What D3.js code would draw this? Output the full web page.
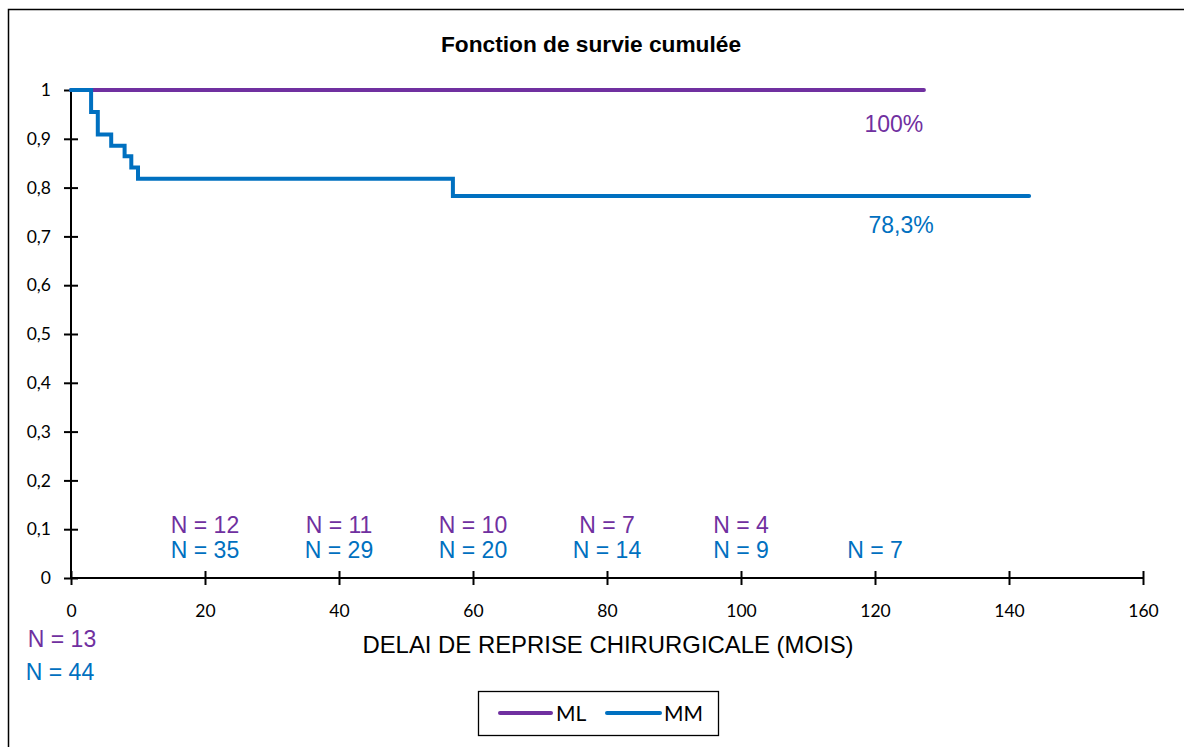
<!DOCTYPE html>
<html>
<head>
<meta charset="utf-8">
<script src="https://cdn.jsdelivr.net/npm/d3@7/dist/d3.min.js"></script>
<style>
  html, body { margin: 0; padding: 0; background: #fff; }
  svg { display: block; }
</style>
</head>
<body>
<svg id="chart" width="1184" height="747"></svg>
<script>
// ---------- data ----------
const title = "Fonction de survie cumulée";
const xTitle = "DELAI DE REPRISE CHIRURGICALE (MOIS)";
const xTicks = [0, 20, 40, 60, 80, 100, 120, 140, 160];
const yTicks = [0, 0.1, 0.2, 0.3, 0.4, 0.5, 0.6, 0.7, 0.8, 0.9, 1];
const yTickLabels = ["0", "0,1", "0,2", "0,3", "0,4", "0,5", "0,6", "0,7", "0,8", "0,9", "1"];

const seriesNames = ["ML", "MM"];
const mlTimes = [0, 127.3];
const mlSurv  = [1, 1];
const mmTimes = [0, 3, 4, 6, 8, 9, 10, 57, 143];
const mmSurv  = [1, 0.955, 0.909, 0.886, 0.864, 0.841, 0.818, 0.783, 0.783];

const mlAtRiskTimes = [20, 40, 60, 80, 100];
const mlAtRisk      = [12, 11, 10, 7, 4];
const mmAtRiskTimes = [20, 40, 60, 80, 100, 120];
const mmAtRisk      = [35, 29, 20, 14, 9, 7];
const mlStartN = 13;
const mmStartN = 44;
const mlFinalLabel = "100%";
const mmFinalLabel = "78,3%";

// ---------- styles ----------
const purple = "#7030A0";
const blue = "#0070C0";
const sans = "'Liberation Sans', Arial, sans-serif";
const tickFont = "Lato, 'Open Sans', sans-serif";

const svg = d3.select("#chart");
svg.append("rect").attr("width", 1184).attr("height", 747).attr("fill", "#fff");
svg.append("rect").attr("x", 8.5).attr("y", 9.5).attr("width", 1200).attr("height", 800)
  .attr("fill", "none").attr("stroke", "#000").attr("stroke-width", 1.5);

const x = d3.scaleLinear().domain([0, 160]).range([71, 1143]);
const y = d3.scaleLinear().domain([0, 1]).range([578, 90]);

// title
svg.append("text").attr("x", 591).attr("y", 52).attr("text-anchor", "middle")
  .attr("font-family", sans).attr("font-weight", "bold").attr("font-size", 22.7)
  .attr("fill", "#000").text(title);

// y axis
const yAxis = d3.axisLeft(y).tickValues(yTicks).tickSize(7).tickPadding(13)
  .tickFormat((d, i) => yTickLabels[i]);
const gy = svg.append("g").attr("transform", `translate(${x(0)},0)`).call(yAxis);
gy.select(".domain").attr("stroke", "#000").attr("stroke-width", 2).attr("d", `M0,${y(0)}V${y(1)}`);
gy.selectAll(".tick line").attr("x1", 7).attr("x2", -7).attr("stroke", "#000").attr("stroke-width", 2);
gy.selectAll(".tick text").attr("font-family", tickFont).attr("font-size", 17.5).attr("fill", "#000");

// x axis
const xAxis = d3.axisBottom(x).tickValues(xTicks).tickSize(7).tickPadding(20);
const gx = svg.append("g").attr("transform", `translate(0,${y(0)})`).call(xAxis);
gx.select(".domain").attr("stroke", "#000").attr("stroke-width", 2).attr("d", `M${x(0)},0H${x(160)}`);
gx.selectAll(".tick line").attr("y1", -7).attr("y2", 7).attr("stroke", "#000").attr("stroke-width", 2);
gx.selectAll(".tick text").attr("font-family", tickFont).attr("font-size", 17.5).attr("fill", "#000");

// x title
svg.append("text").attr("x", 608).attr("y", 653).attr("text-anchor", "middle")
  .attr("font-family", sans).attr("font-size", 23.9).attr("fill", "#000").text(xTitle);

// curves
const line = d3.line().x(d => x(d[0])).y(d => y(d[1])).curve(d3.curveStepAfter);
const mlData = mlTimes.map((t, i) => [t, mlSurv[i]]);
const mmData = mmTimes.map((t, i) => [t, mmSurv[i]]);
svg.append("path").attr("d", line(mlData)).attr("fill", "none").attr("stroke", purple)
  .attr("stroke-width", 4).attr("stroke-linecap", "round");
svg.append("path").attr("d", line(mmData)).attr("fill", "none").attr("stroke", blue)
  .attr("stroke-width", 4).attr("stroke-linecap", "round");

// final labels
svg.append("text").attr("x", x(mlTimes[1]) - 30).attr("y", 132).attr("text-anchor", "middle")
  .attr("font-family", sans).attr("font-size", 23).attr("fill", purple).text(mlFinalLabel);
svg.append("text").attr("x", x(mmTimes[mmTimes.length - 1]) - 128).attr("y", 233).attr("text-anchor", "middle")
  .attr("font-family", sans).attr("font-size", 23).attr("fill", blue).text(mmFinalLabel);

// at-risk numbers
svg.selectAll(".mlN").data(mlAtRiskTimes).enter().append("text")
  .attr("x", d => x(d)).attr("y", 533).attr("text-anchor", "middle")
  .attr("font-family", sans).attr("font-size", 23).attr("fill", purple)
  .text((d, i) => "N = " + mlAtRisk[i]);
svg.selectAll(".mmN").data(mmAtRiskTimes).enter().append("text")
  .attr("x", d => x(d)).attr("y", 558).attr("text-anchor", "middle")
  .attr("font-family", sans).attr("font-size", 23).attr("fill", blue)
  .text((d, i) => "N = " + mmAtRisk[i]);
svg.append("text").attr("x", 62).attr("y", 647).attr("text-anchor", "middle")
  .attr("font-family", sans).attr("font-size", 23).attr("fill", purple).text("N = " + mlStartN);
svg.append("text").attr("x", 60).attr("y", 680).attr("text-anchor", "middle")
  .attr("font-family", sans).attr("font-size", 23).attr("fill", blue).text("N = " + mmStartN);

// legend
const lg = svg.append("g");
lg.append("rect").attr("x", 478.5).attr("y", 691.5).attr("width", 240).attr("height", 44)
  .attr("fill", "#fff").attr("stroke", "#000").attr("stroke-width", 1.3);
const legendItems = [
  { name: seriesNames[0], color: purple, x1: 500, x2: 551, tx: 556 },
  { name: seriesNames[1], color: blue, x1: 607, x2: 660, tx: 664 }
];
legendItems.forEach(it => {
  lg.append("line").attr("x1", it.x1).attr("x2", it.x2).attr("y1", 713).attr("y2", 713)
    .attr("stroke", it.color).attr("stroke-width", 4).attr("stroke-linecap", "round");
  lg.append("text").attr("x", it.tx).attr("y", 721).attr("font-family", tickFont)
    .attr("font-size", 21).attr("fill", "#000").text(it.name);
});
</script>
</body>
</html>
